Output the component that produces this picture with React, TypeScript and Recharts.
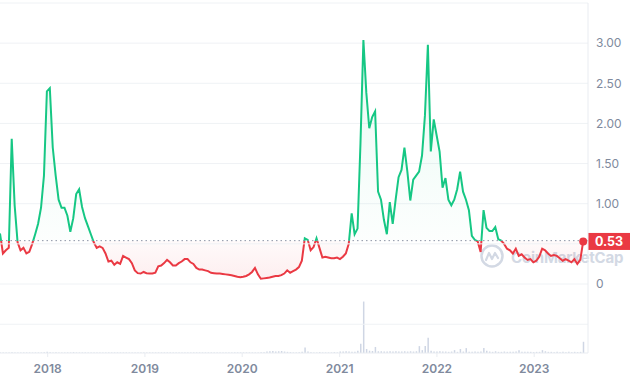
import {
  AreaChart,
  Area,
  BarChart,
  Bar,
  XAxis,
  YAxis,
  CartesianGrid,
  ReferenceLine,
  ReferenceDot,
} from "recharts";

const DAY = 24 * 60 * 60 * 1000;
const START = Date.UTC(2017, 6, 6);
const STEP_DAYS = 11;
const END = START + 2207 * DAY;

// price every 11 days, Jul 2017 -> Jul 2023
const PRICE = [
  0.63, 0.38, 0.42, 0.45, 1.81, 0.98, 0.52, 0.42, 0.45, 0.38,
  0.4, 0.5, 0.62, 0.75, 0.95, 1.35, 2.4, 2.44, 1.7, 1.35,
  1.05, 0.95, 0.95, 0.85, 0.65, 0.82, 1.12, 1.18, 0.96, 0.82,
  0.72, 0.62, 0.52, 0.45, 0.47, 0.45, 0.38, 0.28, 0.29, 0.24,
  0.27, 0.25, 0.35, 0.33, 0.31, 0.26, 0.17, 0.135, 0.13, 0.15,
  0.135, 0.13, 0.13, 0.14, 0.22, 0.23, 0.26, 0.3, 0.27, 0.23,
  0.23, 0.26, 0.28, 0.31, 0.31, 0.27, 0.25, 0.2, 0.18, 0.18,
  0.17, 0.16, 0.14, 0.135, 0.13, 0.13, 0.125, 0.12, 0.115, 0.11,
  0.1, 0.09, 0.085, 0.09, 0.1, 0.12, 0.15, 0.2, 0.12, 0.065,
  0.07, 0.075, 0.08, 0.09, 0.1, 0.1, 0.11, 0.13, 0.17, 0.14,
  0.16, 0.18, 0.21, 0.29, 0.57, 0.55, 0.42, 0.46, 0.57, 0.45,
  0.33, 0.34, 0.33, 0.32, 0.32, 0.33, 0.31, 0.34, 0.38, 0.5,
  0.88, 0.62, 0.69, 1.75, 3.04, 2.38, 1.94, 2.08, 2.15, 1.15,
  1.05, 0.8, 0.62, 1.02, 0.75, 1.05, 1.33, 1.42, 1.7, 1.4,
  1.04, 1.3, 1.35, 1.4, 1.6, 2.1, 2.98, 1.65, 2.05, 1.85,
  1.65, 1.2, 1.32, 1.05, 0.98, 1.05, 1.18, 1.4, 1.15, 1.05,
  0.92, 0.6, 0.55, 0.53, 0.4, 0.92, 0.7, 0.66, 0.66, 0.71,
  0.56, 0.54, 0.5, 0.44, 0.42, 0.38, 0.44, 0.35, 0.37, 0.33,
  0.3, 0.31, 0.27, 0.29, 0.34, 0.44, 0.42, 0.38, 0.35, 0.36,
  0.35, 0.32, 0.29, 0.31, 0.29, 0.27, 0.31, 0.25, 0.3, 0.53,
];

// volume, same dates (relative units)
const VOLUME = [
  0.02, 0.02, 0.02, 0.02, 0.03, 0.02, 0.02, 0.02, 0.02, 0.02,
  0.02, 0.02, 0.02, 0.02, 0.02, 0.03, 0.04, 0.03, 0.02, 0.03,
  0.02, 0.02, 0.02, 0.02, 0.02, 0.03, 0.02, 0.02, 0.02, 0.02,
  0.02, 0.02, 0.02, 0.02, 0.02, 0.02, 0.02, 0.02, 0.02, 0.02,
  0.02, 0.02, 0.02, 0.02, 0.02, 0.02, 0.02, 0.02, 0.02, 0.02,
  0.02, 0.02, 0.02, 0.02, 0.02, 0.02, 0.02, 0.02, 0.02, 0.02,
  0.02, 0.02, 0.02, 0.02, 0.02, 0.02, 0.02, 0.02, 0.02, 0.02,
  0.02, 0.02, 0.02, 0.02, 0.02, 0.02, 0.02, 0.02, 0.02, 0.02,
  0.02, 0.02, 0.02, 0.02, 0.02, 0.02, 0.02, 0.02, 0.02, 0.03,
  0.03, 0.05, 0.06, 0.07, 0.05, 0.06, 0.07, 0.05, 0.04, 0.03,
  0.02, 0.02, 0.03, 0.04, 0.19, 0.05, 0.03, 0.02, 0.02, 0.03,
  0.02, 0.02, 0.02, 0.02, 0.03, 0.02, 0.05, 0.05, 0.06, 0.05,
  0.04, 0.04, 0.08, 0.32, 1.79, 0.14, 0.08, 0.07, 0.21, 0.06,
  0.06, 0.05, 0.05, 0.06, 0.05, 0.06, 0.05, 0.05, 0.06, 0.05,
  0.06, 0.05, 0.06, 0.24, 0.1, 0.24, 0.53, 0.08, 0.05, 0.05,
  0.06, 0.05, 0.05, 0.04, 0.05, 0.1, 0.04, 0.14, 0.05, 0.17,
  0.04, 0.04, 0.05, 0.04, 0.05, 0.17, 0.08, 0.05, 0.04, 0.06,
  0.04, 0.04, 0.05, 0.04, 0.04, 0.04, 0.05, 0.1, 0.04, 0.04,
  0.04, 0.04, 0.03, 0.04, 0.04, 0.1, 0.06, 0.04, 0.04, 0.03,
  0.04, 0.03, 0.04, 0.03, 0.04, 0.03, 0.04, 0.03, 0.04, 0.39,
];

const YEARS = [2018, 2019, 2020, 2021, 2022, 2023];
// 0.50 label sits under the price badge, so only its grid line is drawn
const PRICE_TICKS = [0, 1, 1.5, 2, 2.5, 3];
const HIDDEN_GRID = 0.5;
const BASE_PRICE = 0.54;
const LAST_PRICE = 0.53;

const GREEN = "#16c784";
const RED = "#ea3943";
const GRID = "#eff2f5";
const LABEL = "#808a9d";
const FONT = "Inter, 'Noto Sans', sans-serif";

const data = PRICE.map((price, i) => ({
  t: START + i * STEP_DAYS * DAY,
  price,
  volume: VOLUME[i],
}));
const lastT = data[data.length - 1].t;
const yearTicks = YEARS.map((y) => Date.UTC(y, 0, 1));

const maxP = Math.max(...PRICE);
const minP = Math.min(...PRICE);
const splitAt = (maxP - BASE_PRICE) / (maxP - minP);

function PriceBadge(props: any) {
  const vb = props.viewBox;
  if (!vb) return null;
  const x = vb.x + vb.width;
  return (
    <g>
      <rect x={x} y={vb.y - 8.5} width={42} height={17} fill={RED} />
      <text
        x={x + 21}
        y={vb.y}
        dy="0.36em"
        textAnchor="middle"
        fill="#fff"
        fontSize={12.5}
        fontWeight={700}
        fontFamily={FONT}
      >
        {LAST_PRICE.toFixed(2)}
      </text>
    </g>
  );
}

function Watermark() {
  return (
    <div
      style={{
        position: "absolute",
        left: 480,
        top: 244,
        display: "flex",
        alignItems: "flex-end",
        gap: 7,
        color: "#d3d9e4",
        fontFamily: FONT,
        fontWeight: 700,
        fontSize: 15,
        lineHeight: "15px",
        letterSpacing: -0.2,
      }}
    >
      <svg width={24} height={24} viewBox="0 0 24 24">
        <circle cx={12} cy={12} r={10.5} fill="none" stroke="#d3d9e4" strokeWidth={2.5} />
        <path
          d="M6 16 L9 9 L12 15 L15 9 L18 14"
          fill="none"
          stroke="#d3d9e4"
          strokeWidth={2.2}
          strokeLinejoin="round"
          strokeLinecap="round"
        />
      </svg>
      <span style={{ paddingBottom: 3 }}>CoinMarketCap</span>
    </div>
  );
}

export default function App() {
  return (
    <div
      style={{
        position: "absolute",
        left: 0,
        top: 0,
        width: 630,
        height: 380,
        background: "#fff",
        fontFamily: FONT,
      }}
    >
      <Watermark />
      <div style={{ position: "absolute", left: 0, top: 0 }}>
        <AreaChart
          width={630}
          height={300}
          data={data}
          margin={{ top: 3, right: 0, bottom: 16, left: 0 }}
        >
          <defs>
            <linearGradient id="priceStroke" x1="0" y1="0" x2="0" y2="1">
              <stop offset={splitAt} stopColor={GREEN} />
              <stop offset={splitAt} stopColor={RED} />
            </linearGradient>
            <linearGradient id="priceFill" x1="0" y1="0" x2="0" y2="1">
              <stop offset={0} stopColor={GREEN} stopOpacity={0.16} />
              <stop offset={splitAt} stopColor={GREEN} stopOpacity={0.02} />
              <stop offset={splitAt} stopColor={RED} stopOpacity={0.04} />
              <stop offset={1} stopColor={RED} stopOpacity={0.14} />
            </linearGradient>
          </defs>
          <CartesianGrid vertical={false} stroke={GRID} />
          <XAxis
            dataKey="t"
            type="number"
            domain={[START, END]}
            allowDataOverflow
            hide
          />
          <YAxis
            orientation="right"
            width={42}
            domain={[0, 3.5]}
            ticks={PRICE_TICKS}
            interval={0}
            tickLine={false}
            axisLine={{ stroke: "#e9ecf1" }}
            tick={{ fontSize: 12, fill: LABEL, fontFamily: FONT }}
            tickFormatter={(v: number) => (v === 0 ? "0" : v.toFixed(2))}
          />
          <ReferenceLine y={HIDDEN_GRID} stroke={GRID} />
          <ReferenceLine
            y={BASE_PRICE}
            stroke="#8d94a6"
            strokeDasharray="1.5 3"
          />
          <Area
            type="linear"
            dataKey="price"
            baseValue={BASE_PRICE}
            stroke="url(#priceStroke)"
            strokeWidth={2}
            fill="url(#priceFill)"
            dot={false}
            activeDot={false}
            isAnimationActive={false}
          />
          <ReferenceLine
            y={LAST_PRICE}
            stroke="none"
            label={<PriceBadge />}
          />
          <ReferenceDot
            x={lastT}
            y={LAST_PRICE}
            r={4}
            fill={RED}
            stroke="none"
          />
        </AreaChart>
      </div>
      <div style={{ position: "absolute", left: 0, top: 280 }}>
        <BarChart
          width={630}
          height={100}
          data={data}
          margin={{ top: 4, right: 0, bottom: 0, left: 0 }}
        >
          <XAxis
            dataKey="t"
            type="number"
            domain={[START, END]}
            allowDataOverflow
            ticks={yearTicks}
            interval={0}
            height={27}
            tickSize={4}
            tickMargin={7}
            axisLine={{ stroke: "#e9ecf1" }}
            tickLine={{ stroke: "#e9ecf1" }}
            tick={{ fontSize: 12, fontWeight: 600, fill: LABEL, fontFamily: FONT }}
            tickFormatter={(t: number) => String(new Date(t).getUTCFullYear())}
          />
          <YAxis
            orientation="right"
            width={42}
            domain={[0, 2.4]}
            tick={false}
            tickLine={false}
            axisLine={{ stroke: "#e9ecf1" }}
          />
          <ReferenceLine y={1} stroke={GRID} />
          <Bar
            dataKey="volume"
            fill="#cfd6e4"
            barSize={1.5}
            isAnimationActive={false}
          />
        </BarChart>
      </div>
    </div>
  );
}
